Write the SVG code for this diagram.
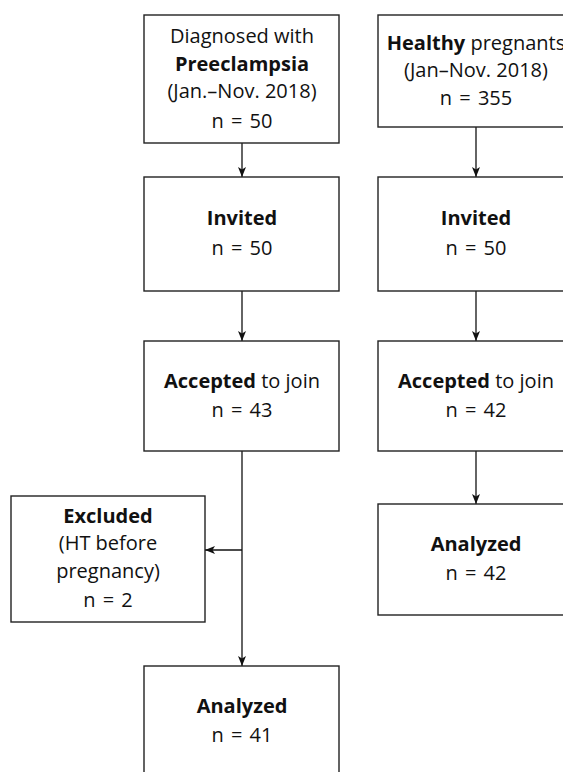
<svg xmlns="http://www.w3.org/2000/svg" width="563" height="772" viewBox="0 0 563 772">
<style>
.box{fill:#fff;stroke:#222;stroke-width:1.4}
.t{font-family:"Open Sans","Liberation Sans",sans-serif;font-size:20px;fill:#111;text-anchor:middle}
.b{font-weight:bold}
.n{word-spacing:2px}
.c{stroke:#111;stroke-width:1.3;fill:none}
</style>
<defs>
<marker id="ah" viewBox="0 0 10 8" refX="10" refY="4" markerWidth="10" markerHeight="8" markerUnits="userSpaceOnUse" orient="auto">
<path d="M0,0 L10,4 L0,8 L2.5,4 Z" fill="#111"/>
</marker>
</defs>
<rect width="563" height="772" fill="#fff"/>
<g id="connectors">
<line class="c" x1="242" y1="143" x2="242" y2="177" marker-end="url(#ah)"/>
<line class="c" x1="242" y1="291" x2="242" y2="341" marker-end="url(#ah)"/>
<line class="c" x1="242" y1="451" x2="242" y2="666" marker-end="url(#ah)"/>
<line class="c" x1="242" y1="550" x2="205" y2="550" marker-end="url(#ah)"/>
<line class="c" x1="476" y1="127" x2="476" y2="177" marker-end="url(#ah)"/>
<line class="c" x1="476" y1="291" x2="476" y2="341" marker-end="url(#ah)"/>
<line class="c" x1="476" y1="451" x2="476" y2="504" marker-end="url(#ah)"/>
</g>
<g id="diagnosed">
<rect class="box" x="144" y="15" width="195" height="128"/>
<text class="t" x="242" y="43">Diagnosed with</text>
<text class="t b" x="242" y="71">Preeclampsia</text>
<text class="t" x="242" y="98">(Jan.–Nov. 2018)</text>
<text class="t n" x="242" y="128">n = 50</text>
</g>
<g id="healthy">
<rect class="box" x="378" y="15" width="196" height="112"/>
<text class="t" x="476" y="50"><tspan class="b">Healthy</tspan> pregnants</text>
<text class="t" x="476" y="77">(Jan–Nov. 2018)</text>
<text class="t n" x="476" y="105">n = 355</text>
</g>
<g id="invited-left">
<rect class="box" x="144" y="177" width="195" height="114"/>
<text class="t b" x="242" y="225">Invited</text>
<text class="t n" x="242" y="255">n = 50</text>
</g>
<g id="invited-right">
<rect class="box" x="378" y="177" width="196" height="114"/>
<text class="t b" x="476" y="225">Invited</text>
<text class="t n" x="476" y="255">n = 50</text>
</g>
<g id="accepted-left">
<rect class="box" x="144" y="341" width="195" height="110"/>
<text class="t" x="242" y="388"><tspan class="b">Accepted</tspan> to join</text>
<text class="t n" x="242" y="417">n = 43</text>
</g>
<g id="accepted-right">
<rect class="box" x="378" y="341" width="196" height="110"/>
<text class="t" x="476" y="388"><tspan class="b">Accepted</tspan> to join</text>
<text class="t n" x="476" y="417">n = 42</text>
</g>
<g id="excluded">
<rect class="box" x="11" y="496" width="194" height="126"/>
<text class="t b" x="108" y="523">Excluded</text>
<text class="t" x="108" y="550">(HT before</text>
<text class="t" x="108" y="578">pregnancy)</text>
<text class="t n" x="108" y="607">n = 2</text>
</g>
<g id="analyzed-right">
<rect class="box" x="378" y="504" width="196" height="111"/>
<text class="t b" x="476" y="551">Analyzed</text>
<text class="t n" x="476" y="580">n = 42</text>
</g>
<g id="analyzed-left">
<rect class="box" x="144" y="666" width="195" height="120"/>
<text class="t b" x="242" y="713">Analyzed</text>
<text class="t n" x="242" y="742">n = 41</text>
</g>
</svg>
